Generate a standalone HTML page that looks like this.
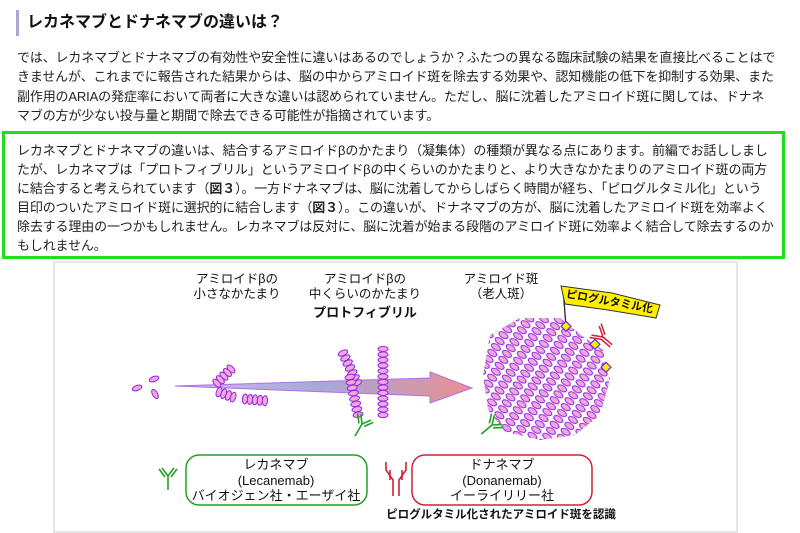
<!DOCTYPE html>
<html><head><meta charset="utf-8"><style>
body{margin:0;width:800px;height:533px;background:#fff;overflow:hidden;position:relative;font-family:"Liberation Sans","Noto Sans CJK JP",sans-serif;color:#222}
.h{position:absolute;left:16px;top:10px;height:26px;border-left:3px solid #a9a9d6;padding-left:8px;font-size:16px;font-weight:bold;line-height:26px;color:#111}
.p{position:absolute;left:17px;top:48px;font-size:13px;line-height:19.4px;white-space:nowrap;letter-spacing:-0.15px}
.g{position:absolute;left:2px;top:131px;width:777px;height:122px;border:3px solid #22dd22;box-sizing:content-box}
.g div{position:absolute;left:12px;top:7px;font-size:13px;line-height:19px;white-space:nowrap;letter-spacing:-0.15px}
svg{position:absolute;left:0;top:0}
</style></head><body>
<div class="h">レカネマブとドナネマブの違いは？</div>
<div class="p">では、レカネマブとドナネマブの有効性や安全性に違いはあるのでしょうか？ふたつの異なる臨床試験の結果を直接比べることはで<br>きませんが、これまでに報告された結果からは、脳の中からアミロイド斑を除去する効果や、認知機能の低下を抑制する効果、また<br>副作用のARIAの発症率において両者に大きな違いは認められていません。ただし、脳に沈着したアミロイド斑に関しては、ドナネ<br>マブの方が少ない投与量と期間で除去できる可能性が指摘されています。</div>
<div class="g"><div>レカネマブとドナネマブの違いは、結合するアミロイドβのかたまり（凝集体）の種類が異なる点にあります。前編でお話ししまし<br>たが、レカネマブは「プロトフィブリル」というアミロイドβの中くらいのかたまりと、より大きなかたまりのアミロイド斑の両方<br>に結合すると考えられています（<b>図３</b>）。一方ドナネマブは、脳に沈着してからしばらく時間が経ち、「ピログルタミル化」という<br>目印のついたアミロイド斑に選択的に結合します（<b>図３</b>）。この違いが、ドナネマブの方が、脳に沈着したアミロイド斑を効率よく<br>除去する理由の一つかもしれません。レカネマブは反対に、脳に沈着が始まる段階のアミロイド斑に効率よく結合して除去するのか<br>もしれません。</div></div>
<svg width="800" height="533" viewBox="0 0 800 533" font-family="Liberation Sans, Noto Sans CJK JP, sans-serif">
<defs>
<linearGradient id="ar" x1="0" x2="1"><stop offset="0" stop-color="#c9b8f0"/><stop offset="0.5" stop-color="#a8a8d8"/><stop offset="1" stop-color="#e89090"/></linearGradient>
<pattern id="pl" width="13" height="7" patternUnits="userSpaceOnUse" patternTransform="rotate(32)">
<rect width="13" height="7" fill="#fff"/><ellipse cx="6.5" cy="3.5" rx="5" ry="2.7" fill="#f6a6dc" stroke="#8a2be2" stroke-width="1"/></pattern>
<g id="o"><ellipse rx="5" ry="2.6" fill="#f6a6dc" stroke="#8a2be2" stroke-width="1"/></g>
<g id="ey"><path d="M0 0 L0 14 M0 0 L-6 -8 M0 0 L6 -8 M-3 1 L-9 -7 M3 1 L9 -7" stroke-width="1.6" fill="none"/></g>
</defs>
<rect x="54" y="262" width="683" height="270" fill="#fff" stroke="#e6e6e6" stroke-width="2"/>
<g font-size="12.5" text-anchor="middle" fill="#111">
<text x="237" y="283">アミロイドβの</text><text x="237" y="298">小さなかたまり</text>
<text x="365" y="283">アミロイドβの</text><text x="365" y="298">中くらいのかたまり</text>
<text x="365" y="317" font-weight="bold" font-size="13">プロトフィブリル</text>
<text x="501" y="283">アミロイド斑</text><text x="501" y="298">（老人斑）</text>
</g>
<path d="M175 386 L430 378 L430 372 L472 388 L430 403 L430 396 Z" fill="url(#ar)" stroke="#b070e0" stroke-width="1"/>
<g fill="#f6a6dc" stroke="#8a2be2" stroke-width="1">
<ellipse cx="137" cy="388" rx="5" ry="2.5" transform="rotate(-20 137 388)"/>
<ellipse cx="154" cy="379" rx="5" ry="2.5" transform="rotate(-20 154 379)"/>
<ellipse cx="155" cy="394" rx="5" ry="2.5" transform="rotate(60 155 394)"/>
</g>
<!-- small cluster -->
<g transform="translate(231 369) rotate(45)"><use href="#o" y="0"/><use href="#o" y="5"/><use href="#o" y="10"/><use href="#o" y="15"/><use href="#o" y="20"/></g>
<g transform="translate(219 392) rotate(-70)"><use href="#o" y="0"/><use href="#o" y="5"/><use href="#o" y="10"/><use href="#o" y="15"/></g>
<g transform="translate(245 399) rotate(-85)"><use href="#o" y="0"/><use href="#o" y="5"/><use href="#o" y="10"/><use href="#o" y="15"/><use href="#o" y="20"/></g>
<!-- protofibril -->
<g transform="translate(383 349)"><use href="#o" y="0"/><use href="#o" y="5.5"/><use href="#o" y="11"/><use href="#o" y="16.5"/><use href="#o" y="22"/><use href="#o" y="27.5"/><use href="#o" y="33"/><use href="#o" y="38.5"/><use href="#o" y="44"/><use href="#o" y="49.5"/><use href="#o" y="55"/><use href="#o" y="60.5"/><use href="#o" y="66"/></g>
<g transform="translate(343 353) rotate(-25)"><use href="#o" y="0"/><use href="#o" y="5.5"/><use href="#o" y="11"/><use href="#o" y="16.5"/><use href="#o" y="22"/><use href="#o" y="27.5"/><use href="#o" y="33"/></g>
<g transform="translate(350 377) rotate(-12)"><use href="#o" y="0"/><use href="#o" y="5.5"/><use href="#o" y="11"/><use href="#o" y="16.5"/><use href="#o" y="22"/><use href="#o" y="27.5"/><use href="#o" y="33"/><use href="#o" y="38.5"/></g>
<path d="M490 335 L520 318 L560 318 L585 338 L603 350 L610 380 L600 415 L575 435 L540 440 L505 432 L488 410 L483 375 Z" fill="url(#pl)"/>
<line x1="563" y1="288" x2="566" y2="327" stroke="#222" stroke-width="1.3"/>
<path d="M561 286 L612 293 L660 305 L656 318 L608 310 L565 304 Z" fill="#ffee00" stroke="#333" stroke-width="1"/>
<text x="609" y="305" font-size="11" font-weight="bold" text-anchor="middle" transform="rotate(10 609 305)" fill="#111">ピログルタミル化</text>
<g fill="#ffee00" stroke="#6a2bd2" stroke-width="1.2">
<rect x="562" y="323" width="7" height="7" transform="rotate(45 566 327)"/>
<rect x="591" y="341" width="7" height="7" transform="rotate(45 595 345)"/>
<rect x="602" y="364" width="7" height="7" transform="rotate(45 606 368)"/>
</g>
<g stroke="#d0203a" transform="translate(603 337) rotate(-50)"><path d="M0 0 L0 12 M-3 0 L-3 12 M0 0 L-6 -10 M0 0 L6 -10 M-3 0 L-9 -10 M3 0 L9 -10" stroke-width="1.5" fill="none"/></g>
<use href="#ey" x="362" y="424" stroke="#22a022" transform="rotate(30 362 424)"/>
<use href="#ey" x="492" y="425" stroke="#22a022" transform="rotate(50 492 425)"/>
<use href="#ey" x="168" y="476" stroke="#22a022"/>
<g stroke="#d0203a" stroke-width="1.6" fill="none"><path d="M393 496 L393 480 L386 470 L386 462 M399 496 L399 480 L406 470 L406 462 M390 480 L390 470 M402 480 L402 470"/></g>
<rect x="186" y="455" width="181" height="50" rx="13" fill="#fff" stroke="#22a022" stroke-width="1.5"/>
<rect x="412" y="455" width="180" height="50" rx="13" fill="#fff" stroke="#d0203a" stroke-width="1.5"/>
<g font-size="13" text-anchor="middle" fill="#111">
<text x="276" y="469">レカネマブ</text><text x="276" y="485">(Lecanemab)</text><text x="276" y="500">バイオジェン社・エーザイ社</text>
<text x="502" y="469">ドナネマブ</text><text x="502" y="485">(Donanemab)</text><text x="502" y="500">イーライリリー社</text>
<text x="501" y="518" font-size="11.5" font-weight="bold">ピログルタミル化されたアミロイド斑を認識</text>
</g>
</svg>
</body></html>
